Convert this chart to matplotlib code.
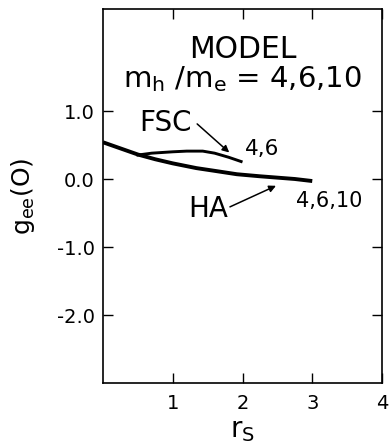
import matplotlib
matplotlib.use("Agg")
import matplotlib.pyplot as plt

plt.rcParams['font.family'] = ['DejaVu Sans']
plt.rcParams['mathtext.fontset'] = 'dejavusans'

# HA curve (m_h/m_e = 4, 6, 10)
ha_rs = [0.0, 0.25, 0.5, 0.75, 1.0, 1.34, 1.6, 1.92, 2.25, 2.5, 2.75, 3.0]
ha_g = [0.54, 0.45, 0.36, 0.29, 0.23, 0.16, 0.12, 0.07, 0.04, 0.02, 0.0, -0.03]

# FSC curve (m_h/m_e = 4, 6)
fsc_rs = [0.48, 0.7, 1.0, 1.2, 1.43, 1.6, 1.8, 2.0]
fsc_g = [0.35, 0.38, 0.40, 0.41, 0.41, 0.38, 0.32, 0.25]

xticks = [1, 2, 3, 4]
xtick_labels = ["1", "2", "3", "4"]
yticks = [1.0, 0.0, -1.0, -2.0]
ytick_labels = ["1.0", "0.0", "-1.0", "-2.0"]

fig = plt.figure(figsize=(3.91, 4.46), dpi=100)
ax = fig.add_axes([103 / 391, 1 - 383 / 446, (382 - 103) / 391, (383 - 9) / 446])

ax.plot(ha_rs, ha_g, color="black", lw=2.8, solid_capstyle="butt")
ax.plot(fsc_rs, fsc_g, color="black", lw=2.1, solid_capstyle="butt")

ax.set_xlim(0, 4)
ax.set_ylim(-3.0, 2.5)
ax.set_xticks(xticks)
ax.set_xticklabels(xtick_labels)
ax.set_yticks(yticks)
ax.set_yticklabels(ytick_labels)
ax.tick_params(direction="in", length=7, width=1.0, top=True, right=True,
               labelsize=14)
ax.tick_params(axis="y", pad=6)
ax.tick_params(axis="x", pad=8)
for s in ax.spines.values():
    s.set_linewidth(1.2)

ax.text(2.0, 1.90, "MODEL", ha="center", va="center", fontsize=21.5)
ax.text(2.0, 1.47, r"m$_\mathregular{h}$ /m$_\mathregular{e}$ = 4,6,10",
        ha="center", va="center", fontsize=21)

arrow = dict(arrowstyle="-|>", color="black", lw=1.1,
             shrinkA=0, shrinkB=0, mutation_scale=10)
ax.text(0.89, 0.83, "FSC", fontsize=20, ha="center", va="center")
ax.annotate("", xy=(1.81, 0.39), xytext=(1.35, 0.81), arrowprops=arrow)
ax.text(1.51, -0.44, "HA", fontsize=20, ha="center", va="center")
ax.annotate("", xy=(2.48, -0.10), xytext=(1.82, -0.41), arrowprops=arrow)
ax.text(2.03, 0.44, "4,6", fontsize=15.5, ha="left", va="center")
ax.text(2.77, -0.33, "4,6,10", fontsize=15, ha="left", va="center")

ax.set_xlabel(r"r$_\mathregular{S}$", fontsize=20, labelpad=2)
ax.set_ylabel(r"g$_\mathregular{ee}$(O)", fontsize=18, labelpad=14)

fig.savefig("out.png", dpi=100)
